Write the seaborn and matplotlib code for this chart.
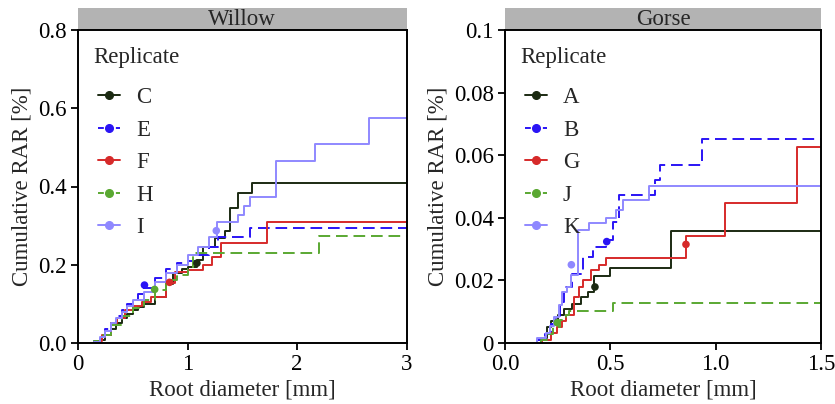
import matplotlib
matplotlib.use("Agg")
import matplotlib.pyplot as plt
from matplotlib.lines import Line2D
from matplotlib.patches import Rectangle
from matplotlib.ticker import FuncFormatter
import seaborn as sns
import pandas as pd

# Willow replicates: diameter where each step begins [mm], cumulative RAR after step [%]
willow_reps = ["C", "E", "F", "H", "I"]
willow_x = {
    "C": [0.15, 0.17, 0.2, 0.25, 0.3, 0.35, 0.4, 0.45, 0.5, 0.55, 0.6, 0.7, 0.8, 0.87, 0.95,
          1.0, 1.09, 1.145, 1.25, 1.345, 1.39, 1.46, 1.59],
    "E": [0.14, 0.15, 0.2, 0.25, 0.3, 0.35, 0.4, 0.45, 0.5, 0.55, 0.6, 0.7, 0.8, 0.9, 1.0,
          1.1, 1.2, 1.28, 1.57],
    "F": [0.15, 0.17, 0.22, 0.3, 0.36, 0.43, 0.5, 0.58, 0.67, 0.8, 0.89, 1.0, 1.14, 1.22,
          1.31, 1.73],
    "H": [0.14, 0.15, 0.2, 0.3, 0.4, 0.5, 0.6, 0.7, 0.8, 0.9, 1.0, 1.05, 2.2],
    "I": [0.14, 0.15, 0.2, 0.25, 0.3, 0.35, 0.4, 0.45, 0.5, 0.6, 0.7, 0.8, 0.9, 1.0, 1.1,
          1.2, 1.27, 1.46, 1.52, 1.574, 1.81, 2.16, 2.656],
}
willow_y = {
    "C": [0.0, 0.002, 0.008, 0.02, 0.035, 0.05, 0.065, 0.075, 0.085, 0.093, 0.1, 0.118, 0.15,
          0.178, 0.19, 0.195, 0.212, 0.246, 0.268, 0.285, 0.345, 0.383, 0.408],
    "E": [0.0, 0.005, 0.02, 0.035, 0.05, 0.07, 0.085, 0.1, 0.11, 0.125, 0.14, 0.165, 0.19,
          0.205, 0.21, 0.225, 0.245, 0.272, 0.295],
    "F": [0.0, 0.005, 0.02, 0.05, 0.065, 0.084, 0.095, 0.105, 0.118, 0.153, 0.182, 0.187,
          0.2, 0.221, 0.255, 0.31],
    "H": [0.0, 0.005, 0.02, 0.045, 0.07, 0.09, 0.11, 0.135, 0.16, 0.175, 0.19, 0.229, 0.273],
    "I": [0.0, 0.003, 0.015, 0.03, 0.05, 0.065, 0.08, 0.095, 0.11, 0.13, 0.155, 0.18, 0.2,
          0.225, 0.245, 0.27, 0.308, 0.327, 0.35, 0.374, 0.465, 0.509, 0.576],
}
willow_mark_x = [1.086, 0.607, 0.836, 0.70, 1.263]
willow_mark_y = [0.204, 0.148, 0.155, 0.137, 0.287]

# Gorse replicates
gorse_reps = ["A", "B", "G", "J", "K"]
gorse_x = {
    "A": [0.16, 0.17, 0.2, 0.22, 0.25, 0.28, 0.32, 0.36, 0.392, 0.424, 0.498, 0.79],
    "B": [0.14, 0.15, 0.19, 0.22, 0.24, 0.26, 0.28, 0.32, 0.368, 0.416, 0.48, 0.511, 0.543,
          0.71, 0.734, 0.936],
    "G": [0.17, 0.177, 0.217, 0.248, 0.27, 0.288, 0.328, 0.35, 0.368, 0.408, 0.447, 0.479,
          0.861, 1.045, 1.387],
    "J": [0.16, 0.17, 0.2, 0.23, 0.26, 0.29, 0.304, 0.511],
    "K": [0.14, 0.153, 0.193, 0.215, 0.233, 0.255, 0.272, 0.295, 0.312, 0.345, 0.40, 0.479,
          0.527, 0.559, 0.682],
}
gorse_y = {
    "A": [0.0, 0.0016, 0.005, 0.007, 0.009, 0.011, 0.0124, 0.0148, 0.0164, 0.0215, 0.024,
          0.0359],
    "B": [0.0, 0.001, 0.003, 0.006, 0.0084, 0.013, 0.018, 0.022, 0.0276, 0.0308, 0.033,
          0.0388, 0.0473, 0.052, 0.0569, 0.0652],
    "G": [0.0, 0.001, 0.0031, 0.0052, 0.007, 0.0089, 0.0148, 0.018, 0.0201, 0.0233, 0.0249,
          0.0271, 0.0342, 0.0446, 0.0627],
    "J": [0.0, 0.001, 0.003, 0.005, 0.0075, 0.009, 0.0103, 0.0129],
    "K": [0.0, 0.0016, 0.0031, 0.0055, 0.0084, 0.012, 0.0164, 0.018, 0.0217, 0.0361, 0.0382,
          0.0398, 0.0425, 0.0457, 0.0503],
}
gorse_mark_x = [0.427, 0.483, 0.859, 0.248, 0.315]
gorse_mark_y = [0.0179, 0.0324, 0.0315, 0.0065, 0.025]

colors = ["#1b2a12", "#2a14f5", "#d62a2a", "#5aa832", "#8f88ff"]
dashed = [False, True, False, True, False]

sns.set_theme(style="ticks")
plt.rcParams["font.family"] = ["Liberation Serif", "DejaVu Serif"]
plt.rcParams["font.size"] = 16.5
plt.rcParams["axes.linewidth"] = 1.4
plt.rcParams["xtick.major.width"] = 1.3
plt.rcParams["ytick.major.width"] = 1.3
plt.rcParams["xtick.major.size"] = 5
plt.rcParams["ytick.major.size"] = 5
plt.rcParams["xtick.labelsize"] = 16.5
plt.rcParams["ytick.labelsize"] = 16.5
plt.rcParams["axes.labelsize"] = 16.5

W, H = 835, 404
fig = plt.figure(figsize=(W / 100, H / 100), dpi=100)
# axes boxes in pixels: left, right, top, bottom
ax1 = fig.add_axes([78 / W, (H - 343) / H, 328.5 / W, 313 / H])
ax2 = fig.add_axes([505 / W, (H - 343) / H, 316 / W, 313 / H])


def panel(ax, reps, xs, ys, mx, my, xmax, ymax, title, xfmt, yfmt, xticks, yticks, wpx):
    rows = []
    for r in reps:
        for a, b in zip(xs[r] + [xmax], ys[r] + [ys[r][-1]]):
            rows.append({"diameter": a, "rar": b, "replicate": r})
    df = pd.DataFrame(rows)
    pal = dict(zip(reps, colors))
    dash_map = {r: ((6, 3) if d else "") for r, d in zip(reps, dashed)}
    sns.lineplot(data=df, x="diameter", y="rar", hue="replicate", style="replicate",
                 palette=pal, dashes=dash_map, estimator=None, sort=False,
                 drawstyle="steps-post", linewidth=1.4, legend=False, ax=ax)
    mk = pd.DataFrame({"diameter": mx, "rar": my, "replicate": reps})
    sns.scatterplot(data=mk, x="diameter", y="rar", hue="replicate", palette=pal,
                    s=30, edgecolor="none", legend=False, ax=ax, zorder=5)
    ax.set_xlim(0, xmax)
    ax.set_ylim(0, ymax)
    ax.set_xticks(xticks)
    ax.set_yticks(yticks)
    ax.xaxis.set_major_formatter(FuncFormatter(xfmt))
    ax.yaxis.set_major_formatter(FuncFormatter(yfmt))
    ax.set_xlabel("Root diameter [mm]", labelpad=3)
    ax.set_ylabel("Cumulative RAR [%]", labelpad=4)
    for s in ax.spines.values():
        s.set_color("black")
    ax.tick_params(colors="black", pad=3)
    # facet strip
    ax.add_patch(Rectangle((0, 1), 1, 22 / 313, transform=ax.transAxes,
                           facecolor="#b3b3b3", edgecolor="none", clip_on=False))
    ax.text(0.5, 1 + 11 / 313, title, transform=ax.transAxes, ha="center",
            va="center", fontsize=16.5)
    # legend
    ax.text(15 / wpx, (343 - 57) / 313, "Replicate", transform=ax.transAxes,
            ha="left", va="center", fontsize=16.5)
    handles = []
    for c, d in zip(colors, dashed):
        h = Line2D([], [], color=c, lw=1.4, marker="o", markersize=5.5)
        if d:
            h.set_dashes((3, 1.6))
        handles.append(h)
    ax.legend(handles, reps, loc="upper left",
              bbox_to_anchor=(20 / wpx, (343 - 87) / 313), frameon=False,
              handlelength=0.95, handletextpad=0.7, labelspacing=0.5, borderpad=0,
              borderaxespad=0, fontsize=16.5)


panel(ax1, willow_reps, willow_x, willow_y, willow_mark_x, willow_mark_y, 3, 0.8,
      "Willow", lambda v, p: f"{v:g}", lambda v, p: f"{v:.1f}",
      [0, 1, 2, 3], [0, 0.2, 0.4, 0.6, 0.8], 328.5)
panel(ax2, gorse_reps, gorse_x, gorse_y, gorse_mark_x, gorse_mark_y, 1.5, 0.1,
      "Gorse", lambda v, p: f"{v:.1f}", lambda v, p: f"{v:g}",
      [0, 0.5, 1.0, 1.5], [0, 0.02, 0.04, 0.06, 0.08, 0.1], 316)

fig.savefig("out.png", dpi=100)
